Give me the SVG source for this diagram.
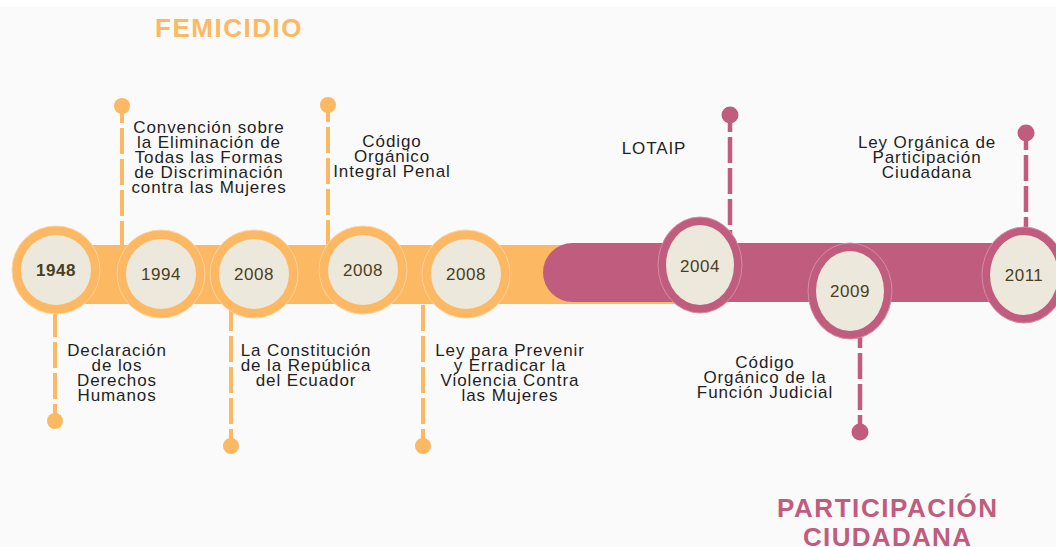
<svg xmlns="http://www.w3.org/2000/svg" width="1056" height="547" viewBox="0 0 1056 547">
<style>
.lbl{font-family:"Liberation Sans",Arial,sans-serif;font-size:17px;fill:#1f1f1f;text-anchor:middle;letter-spacing:0.9px}
.yr{font-family:"Liberation Sans",Arial,sans-serif;font-size:17px;fill:#4a3f1e;text-anchor:middle;letter-spacing:0.5px}
.ttl{font-family:"Liberation Sans",Arial,sans-serif;font-weight:bold;font-size:26px;text-anchor:middle}
.ol{stroke:#FDB863;stroke-width:4;stroke-dasharray:26 5;stroke-dashoffset:9;fill:none}
.pl{stroke:#C05C7E;stroke-width:4.5;stroke-dasharray:26 5;stroke-dashoffset:9;fill:none}
.odot{fill:#FDB863}
.pdot{fill:#C05C7E}
.oc{fill:#FDB863;stroke:#FFD3A0;stroke-width:1}
.pc{fill:#C05C7E;stroke:#D88AA3;stroke-width:1}
.in{fill:#EDE8DC}
</style>
<rect x="0" y="0" width="1056" height="547" fill="#FBFAFA"/>
<rect x="0" y="0" width="1056" height="7" fill="#FFFFFF"/>

<g id="titles">
<text class="ttl" x="229" y="37" fill="#FDB863" letter-spacing="1.5">FEMICIDIO</text>
<text class="ttl" x="887" y="517" fill="#C05C7E" textLength="220">PARTICIPACIÓN</text>
<text class="ttl" x="887" y="546" fill="#C05C7E" textLength="168">CIUDADANA</text>
</g>

<g id="connectors">
<line class="ol" x1="55" y1="421" x2="55" y2="300"/>
<line class="ol" x1="122" y1="106" x2="122" y2="250"/>
<line class="ol" x1="231" y1="446" x2="231" y2="290"/>
<line class="ol" x1="328" y1="105" x2="328" y2="250"/>
<line class="ol" x1="423" y1="446" x2="423" y2="290"/>
<line class="pl" x1="730" y1="115" x2="730" y2="240"/>
<line class="pl" x1="860" y1="432" x2="860" y2="320"/>
<line class="pl" x1="1026" y1="133" x2="1026" y2="240"/>
<circle class="odot" cx="55" cy="421" r="8"/>
<circle class="odot" cx="122" cy="106" r="8"/>
<circle class="odot" cx="231" cy="446" r="8"/>
<circle class="odot" cx="328" cy="105" r="8"/>
<circle class="odot" cx="423" cy="446" r="8"/>
<circle class="pdot" cx="730" cy="115" r="8.5"/>
<circle class="pdot" cx="860" cy="432" r="8.5"/>
<circle class="pdot" cx="1026" cy="133" r="8.5"/>
</g>

<g id="bars">
<rect x="40" y="245" width="707" height="59" rx="29.5" fill="#FDB863"/>
<rect x="543" y="243" width="560" height="59" rx="29.5" fill="#C05C7E"/>
</g>

<g id="node-1948">
<circle class="oc" cx="56" cy="270" r="44"/>
<circle class="in" cx="56" cy="270" r="35"/>
<text class="yr" x="56" y="276" font-weight="bold">1948</text>
</g>
<g id="node-1994">
<circle class="oc" cx="161" cy="274" r="44"/>
<circle class="in" cx="161" cy="274" r="35"/>
<text class="yr" x="161" y="280">1994</text>
</g>
<g id="node-2008a">
<circle class="oc" cx="254" cy="274" r="44"/>
<circle class="in" cx="254" cy="274" r="35"/>
<text class="yr" x="254" y="280">2008</text>
</g>
<g id="node-2008b">
<circle class="oc" cx="363" cy="270" r="44"/>
<circle class="in" cx="363" cy="270" r="35"/>
<text class="yr" x="363" y="276">2008</text>
</g>
<g id="node-2008c">
<circle class="oc" cx="466" cy="274" r="44"/>
<circle class="in" cx="466" cy="274" r="35"/>
<text class="yr" x="466" y="280">2008</text>
</g>
<g id="node-2004">
<ellipse class="pc" cx="700" cy="265" rx="42" ry="48"/>
<ellipse class="in" cx="700" cy="265" rx="34" ry="40"/>
<text class="yr" x="700" y="272">2004</text>
</g>
<g id="node-2009">
<ellipse class="pc" cx="850" cy="291" rx="42" ry="48"/>
<ellipse class="in" cx="850" cy="291" rx="34" ry="40"/>
<text class="yr" x="850" y="297">2009</text>
</g>
<g id="node-2011">
<ellipse class="pc" cx="1024" cy="275" rx="42" ry="48"/>
<ellipse class="in" cx="1024" cy="275" rx="34" ry="40"/>
<text class="yr" x="1024" y="281">2011</text>
</g>

<g id="label-1948">
<text class="lbl" x="117" y="356">Declaración</text>
<text class="lbl" x="117" y="371">de los</text>
<text class="lbl" x="117" y="386">Derechos</text>
<text class="lbl" x="117" y="401">Humanos</text>
</g>
<g id="label-1994">
<text class="lbl" x="209" y="133">Convención sobre</text>
<text class="lbl" x="209" y="148">la Eliminación de</text>
<text class="lbl" x="209" y="163">Todas las Formas</text>
<text class="lbl" x="209" y="178">de Discriminación</text>
<text class="lbl" x="209" y="193">contra las Mujeres</text>
</g>
<g id="label-2008a">
<text class="lbl" x="306" y="356">La Constitución</text>
<text class="lbl" x="306" y="371">de la República</text>
<text class="lbl" x="306" y="386">del Ecuador</text>
</g>
<g id="label-2008b">
<text class="lbl" x="392" y="147">Código</text>
<text class="lbl" x="392" y="162">Orgánico</text>
<text class="lbl" x="392" y="177">Integral Penal</text>
</g>
<g id="label-2008c">
<text class="lbl" x="510" y="356">Ley para Prevenir</text>
<text class="lbl" x="510" y="371">y Erradicar la</text>
<text class="lbl" x="510" y="386">Violencia Contra</text>
<text class="lbl" x="510" y="401">las Mujeres</text>
</g>
<g id="label-2004">
<text class="lbl" x="654" y="154">LOTAIP</text>
</g>
<g id="label-2009">
<text class="lbl" x="765" y="368">Código</text>
<text class="lbl" x="765" y="383">Orgánico de la</text>
<text class="lbl" x="765" y="398">Función Judicial</text>
</g>
<g id="label-2011">
<text class="lbl" x="927" y="148">Ley Orgánica de</text>
<text class="lbl" x="927" y="163">Participación</text>
<text class="lbl" x="927" y="178">Ciudadana</text>
</g>
</svg>
